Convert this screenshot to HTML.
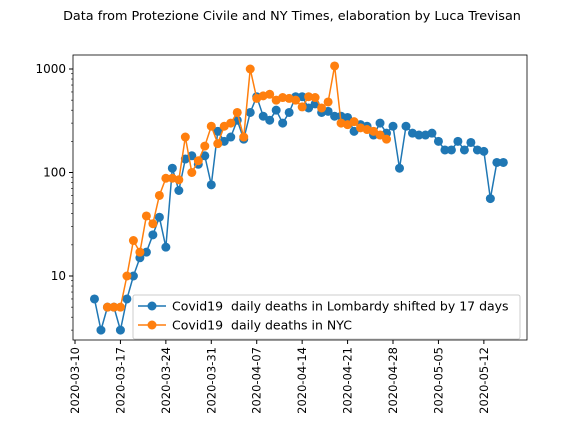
<!DOCTYPE html>
<html><head><meta charset="utf-8"><style>body{margin:0;background:#fff}svg{display:block;font-family:"DejaVu Sans","Liberation Sans",sans-serif}</style></head>
<body>
<svg id="chart" width="584" height="438"></svg>
<script>
const blueValues=[6,3,5,5,3,6,10,15,17,25,37,19,110,67,135,145,120,145,76,250,200,220,320,210,380,540,350,320,400,300,380,540,540,420,460,380,390,350,350,340,250,290,280,230,300,240,280,110,280,240,230,230,240,200,165,165,200,165,195,165,160,56,125,125];
const blueStart=3;
const orangeValues=[5,5,5,10,22,17,38,32,60,88,88,85,220,100,130,180,280,190,280,300,380,220,1000,520,550,570,500,530,520,500,430,540,530,420,480,1070,300,290,310,270,260,250,230,210];
const orangeStart=5;
const xTickLabels=["2020-03-10","2020-03-17","2020-03-24","2020-03-31","2020-04-07","2020-04-14","2020-04-21","2020-04-28","2020-05-05","2020-05-12"];
const yTicks=[10,100,1000];
const L=73,R=527,T=55,B=340;
const x=d=>75+d*6.49;
const y=v=>276-(Math.log10(v)-1)*103.5;
const NS="http://www.w3.org/2000/svg";
const svg=document.getElementById('chart');
function mk(tag,attrs,parent){const e=document.createElementNS(NS,tag);for(const k in attrs)e.setAttribute(k,attrs[k]);(parent||svg).appendChild(e);return e;}
let t=mk('text',{x:292,y:20,'font-size':12.8,'text-anchor':'middle',fill:'#000'});


t.textContent="Data from Protezione Civile and NY Times, elaboration by Luca Trevisan";
let frame=mk('rect',{x:L,y:T,width:R-L,height:B-T,fill:'none',stroke:'#000','stroke-width':0.8});


xTickLabels.forEach((lab,i)=>{const xx=x(i*7);
 mk('line',{x1:xx,x2:xx,y1:B,y2:B+4,stroke:'#000'});
 const tx=mk('text',{x:0,y:0,'font-size':11.5,'text-anchor':'end',transform:`translate(${xx+4},${B+7}) rotate(-90)`});
 
 
 tx.textContent=lab;});
yTicks.forEach(v=>{const yy=y(v);
 mk('line',{x1:L-4,x2:L,y1:yy,y2:yy,stroke:'#000'});
 const tx=mk('text',{x:L-7,y:yy+4,'font-size':12,'text-anchor':'end'});
 
 
 tx.textContent=v;
 for(let k=2;k<10;k++){const m=v*k;if(m>1500)continue;const my=y(m);mk('line',{x1:L-2,x2:L,y1:my,y2:my,stroke:'#000','stroke-width':0.6});}});
[3,4,5,6,7,8,9].forEach(k=>{const my=y(k);if(my<B)mk('line',{x1:L-2,x2:L,y1:my,y2:my,stroke:'#000','stroke-width':0.6});});
function series(vals,start,color,name){const g=mk('g',{});
 
 
 mk('polyline',{points:vals.map((v,i)=>x(start+i)+','+y(v)).join(' '),fill:'none',stroke:color,'stroke-width':1.5},g);
 vals.forEach((v,i)=>{const c=mk('circle',{cx:x(start+i),cy:y(v),r:4.5,fill:color},g);
  
  });}
series(blueValues,blueStart,'#1f77b4','lombardy-series');
series(orangeValues,orangeStart,'#ff7f0e','nyc-series');
const lg=mk('g',{});


mk('rect',{x:133,y:295,width:387,height:44,fill:'#fff','fill-opacity':0.8,stroke:'#ccc',rx:2},lg);
[['#1f77b4','Covid19  daily deaths in Lombardy shifted by 17 days',306],['#ff7f0e','Covid19  daily deaths in NYC',325]].forEach(([c,s,yy])=>{
 mk('line',{x1:138,x2:166,y1:yy,y2:yy,stroke:c,'stroke-width':1.5},lg);
 mk('circle',{cx:152,cy:yy,r:4.5,fill:c},lg);
 const tx=mk('text',{x:172,y:yy+4.5,'font-size':12.5,style:'white-space:pre'},lg);
 
 
 tx.textContent=s;});
</script>
</body></html>
